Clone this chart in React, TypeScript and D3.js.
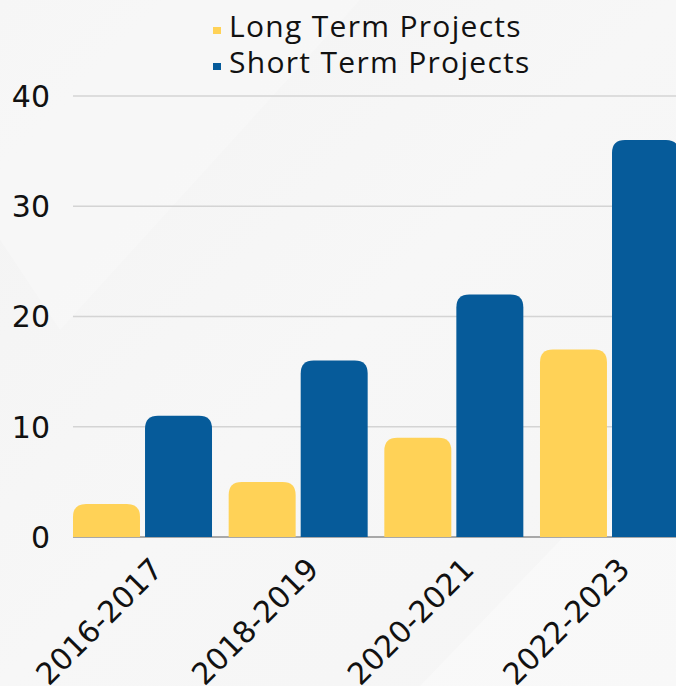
import React from "react";
import * as d3 from "d3";

const categories = ["2016-2017", "2018-2019", "2020-2021", "2022-2023"];
const seriesNames = ["Long Term Projects", "Short Term Projects"];
const longTerm = [3, 5, 9, 17];
const shortTerm = [11, 16, 22, 36];
const yTicks = [0, 10, 20, 30, 40];
const colors = ["#FFD257", "#065B9A"];

const W = 676;
const H = 686;

function barPath(x: number, y: number, w: number, h: number, r: number) {
  const rr = Math.min(r, h, w / 2);
  return `M${x},${y + h}V${y + rr}Q${x},${y} ${x + rr},${y}H${x + w - rr}Q${x + w},${y} ${x + w},${y + rr}V${y + h}Z`;
}

export default function App() {
  const y = d3.scaleLinear().domain([0, 40]).range([537, 96]);
  const x0 = d3
    .scaleBand()
    .domain(categories)
    .range([64.6, 687.4])
    .paddingInner(0.107)
    .paddingOuter(0.054);
  const x1 = d3
    .scaleBand()
    .domain(seriesNames)
    .range([0, x0.bandwidth()])
    .paddingInner(0.07);

  const series = [longTerm, shortTerm];

  return (
    <svg width={W} height={H} style={{ display: "block", position: "absolute", left: 0, top: 0 }}>
      <defs>
        <linearGradient id="bg" x1="0" y1="0" x2="1" y2="1">
          <stop offset="0" stopColor="#f3f3f3" />
          <stop offset="0.5" stopColor="#f7f7f7" />
          <stop offset="1" stopColor="#f5f5f5" />
        </linearGradient>
      </defs>
      <rect width={W} height={H} fill="url(#bg)" />
      <polygon points="0,0 360,0 60,330 0,240" fill="#ffffff" opacity={0.25} />
      <polygon points="420,686 676,420 676,686" fill="#ffffff" opacity={0.35} />

      {/* gridlines */}
      {yTicks.map((t) => (
        <line
          key={t}
          x1={73}
          x2={W}
          y1={y(t)}
          y2={y(t)}
          stroke={t === 0 ? "#a8a8a8" : "#d4d4d4"}
          strokeWidth={t === 0 ? 2 : 1.5}
        />
      ))}

      {/* y labels */}
      {yTicks.map((t) => (
        <text
          key={t}
          x={50}
          y={y(t)}
          dy="0.36em"
          textAnchor="end"
          fontFamily="'DejaVu Sans', sans-serif"
          fontSize={30}
          fill="#111"
        >
          {t}
        </text>
      ))}

      {/* bars */}
      {categories.map((c, i) => (
        <g key={c} transform={`translate(${x0(c)},0)`}>
          {seriesNames.map((s, j) => {
            const v = series[j][i];
            return (
              <path
                key={s}
                d={barPath(x1(s)!, y(v), x1.bandwidth(), y(0) - y(v), 13)}
                fill={colors[j]}
              />
            );
          })}
        </g>
      ))}

      {/* x labels */}
      {categories.map((c) => {
        const cx = x0(c)! + x0.bandwidth() / 2 + 22;
        return (
          <text
            key={c}
            transform={`translate(${cx},${571}) rotate(-45)`}
            textAnchor="end"
            fontFamily="'DejaVu Sans', sans-serif"
            fontSize={30}
            fill="#111"
          >
            {c}
          </text>
        );
      })}

      {/* legend */}
      {seriesNames.map((s, j) => (
        <g key={s} transform={`translate(213,${37 + j * 36})`}>
          <rect x={0} y={-10} width={8} height={7} fill={colors[j]} />
          <text
            x={16}
            y={0}
            fontFamily="'Open Sans', sans-serif"
            fontSize={30}
            letterSpacing={1.3}
            fill="#111"
          >
            {s}
          </text>
        </g>
      ))}
    </svg>
  );
}
